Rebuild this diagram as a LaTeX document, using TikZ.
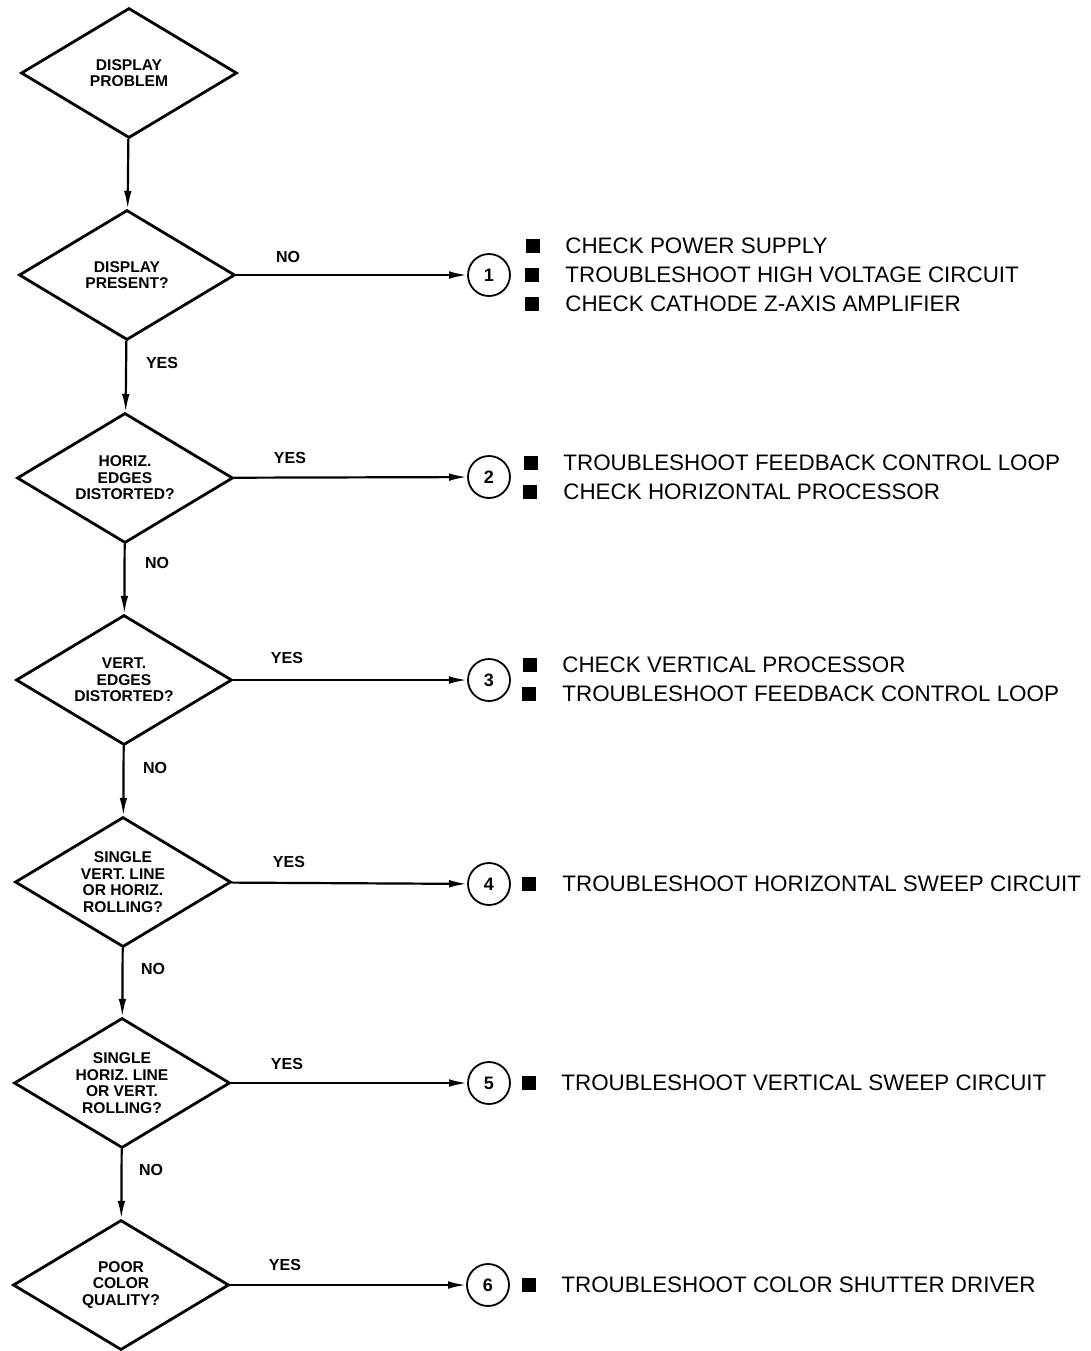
\documentclass[tikz,border=0pt]{standalone}
\usepackage{fontspec}
\setmainfont{Liberation Sans}
\usepackage{tikz}
\usetikzlibrary{arrows.meta, shapes.geometric}

\tikzset{
	decision/.style={diamond, aspect=1.66, draw, line width=1.4pt, minimum width=108pt, minimum height=65pt,
		inner sep=0pt, align=center, font=\bfseries\fontsize{7.8}{8.3}\selectfont},
	refnum/.style={circle, draw, line width=0.9pt, minimum size=21pt, inner sep=0pt,
		font=\bfseries\fontsize{9}{10}\selectfont},
	answer/.style={font=\bfseries\fontsize{8}{9}\selectfont},
	bullet/.style={fill=black, minimum size=7.2pt, inner sep=0pt},
	action/.style={anchor=west, inner sep=0pt, font=\fontsize{11.2}{12}\selectfont},
	flow/.style={line width=1.1pt, -{Latex[length=9pt,width=3.8pt]}}
}

\begin{document}
\begin{tikzpicture}[x=0.5pt, y=-0.5pt]
	\useasboundingbox (0,0) rectangle (1091,1351);
	% decision column
	\node[decision] (d1) at (129,73) {DISPLAY\\PROBLEM};
	\node[decision] (d2) at (127,275) {DISPLAY\\PRESENT?};
	\node[decision] (d3) at (125,478) {HORIZ.\\EDGES\\DISTORTED?};
	\node[decision] (d4) at (124,680) {VERT.\\EDGES\\DISTORTED?};
	\node[decision] (d5) at (123,882) {SINGLE\\VERT. LINE\\OR HORIZ.\\ROLLING?};
	\node[decision] (d6) at (122,1083) {SINGLE\\HORIZ. LINE\\OR VERT.\\ROLLING?};
	\node[decision] (d7) at (121,1285) {POOR\\COLOR\\QUALITY?};
	\draw[flow] (d1) -- (d2);
	\draw[flow] (d2) -- (d3);
	\draw[flow] (d3) -- (d4);
	\draw[flow] (d4) -- (d5);
	\draw[flow] (d5) -- (d6);
	\draw[flow] (d6) -- (d7);
	\node[answer, anchor=west] (a2) at (139,363) {YES};
	\node[answer, anchor=west] (a3) at (138,563) {NO};
	\node[answer, anchor=west] (a4) at (136,768) {NO};
	\node[answer, anchor=west] (a5) at (134,969) {NO};
	\node[answer, anchor=west] (a6) at (132,1170) {NO};
	% reference circles
	\node[refnum] (c1) at (489,275) {1};
	\node[refnum] (c2) at (489,477) {2};
	\node[refnum] (c3) at (489,680) {3};
	\node[refnum] (c4) at (489,884) {4};
	\node[refnum] (c5) at (489,1083) {5};
	\node[refnum] (c6) at (488,1285) {6};
	\draw[flow] (d2) -- (c1);
	\draw[flow] (d3) -- (c2);
	\draw[flow] (d4) -- (c3);
	\draw[flow] (d5) -- (c4);
	\draw[flow] (d6) -- (c5);
	\draw[flow] (d7) -- (c6);
	\node[answer] (h2) at (288,257) {NO};
	\node[answer] (h3) at (290,458) {YES};
	\node[answer] (h4) at (287,658) {YES};
	\node[answer] (h5) at (289,862) {YES};
	\node[answer] (h6) at (287,1064) {YES};
	\node[answer] (h7) at (285,1265) {YES};
	% actions
	\node[bullet] (b11) at (533,246) {};
	\node[bullet] (b12) at (532,275) {};
	\node[bullet] (b13) at (532,304) {};
	\node[action] (t11) at (565,246) {CHECK POWER SUPPLY};
	\node[action] (t12) at (565,275) {TROUBLESHOOT HIGH VOLTAGE CIRCUIT};
	\node[action] (t13) at (565,304) {CHECK CATHODE Z-AXIS AMPLIFIER};
	\node[bullet] (b21) at (531,463) {};
	\node[bullet] (b22) at (530,492) {};
	\node[action] (t21) at (563,463) {TROUBLESHOOT FEEDBACK CONTROL LOOP};
	\node[action] (t22) at (563,492) {CHECK HORIZONTAL PROCESSOR};
	\node[bullet] (b31) at (530,665) {};
	\node[bullet] (b32) at (529,694) {};
	\node[action] (t31) at (562,665) {CHECK VERTICAL PROCESSOR};
	\node[action] (t32) at (562,694) {TROUBLESHOOT FEEDBACK CONTROL LOOP};
	\node[bullet] (b41) at (529,884) {};
	\node[action] (t41) at (562,884) {TROUBLESHOOT HORIZONTAL SWEEP CIRCUIT};
	\node[bullet] (b51) at (529,1083) {};
	\node[action] (t51) at (561,1083) {TROUBLESHOOT VERTICAL SWEEP CIRCUIT};
	\node[bullet] (b61) at (529,1285) {};
	\node[action] (t61) at (561,1285) {TROUBLESHOOT COLOR SHUTTER DRIVER};
\end{tikzpicture}
\end{document}
